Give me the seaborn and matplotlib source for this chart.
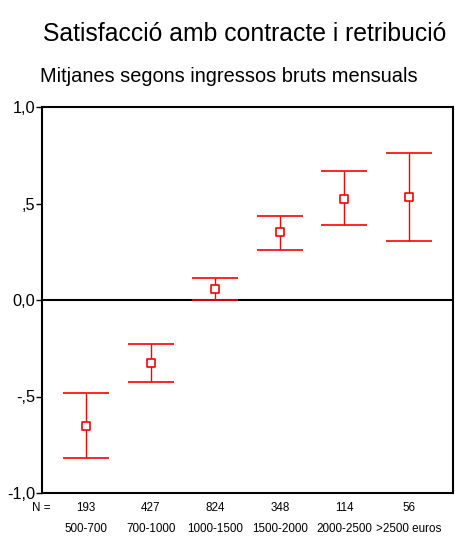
import numpy as np
import pandas as pd
import matplotlib
matplotlib.use("Agg")
import matplotlib.pyplot as plt
import matplotlib.transforms as mtransforms
import seaborn as sns

# Dades llegides del gràfic
grups = ["500-700", "700-1000", "1000-1500", "1500-2000", "2000-2500", ">2500 euros"]
n_casos = [193, 427, 824, 348, 114, 56]
mitjanes = [-0.654, -0.325, 0.055, 0.352, 0.524, 0.534]
inferior = [-0.820, -0.425, 0.000, 0.261, 0.391, 0.306]
superior = [-0.484, -0.227, 0.115, 0.435, 0.666, 0.764]

sns.set_theme(style="white")
plt.rcParams['font.family'] = ['Liberation Sans', 'DejaVu Sans']
plt.rcParams['text.color'] = 'black'
plt.rcParams['ytick.color'] = 'black'
plt.rcParams['ytick.labelcolor'] = 'black'

df = pd.DataFrame({"pos": range(len(grups)), "grup": grups, "mitjana": mitjanes,
                   "inf": inferior, "sup": superior, "n": n_casos})

fig, ax = plt.subplots(figsize=(4.55, 5.36), dpi=100)
fig.subplots_adjust(left=42/455, right=453/455, top=1-107/536, bottom=1-493/536)

# línia de referència al zero
ax.axhline(0, color="black", lw=1.5, zorder=1)

# barres d'interval
ax.errorbar(df["pos"], df["mitjana"],
            yerr=[df["mitjana"] - df["inf"], df["sup"] - df["mitjana"]],
            fmt="none", ecolor="#ff0000", elinewidth=1.0, capsize=16.8, capthick=1.2,
            zorder=2)
sns.scatterplot(data=df, x="pos", y="mitjana", marker="s", s=36,
                facecolor="white", edgecolor="#ff0000", linewidth=1.2, ax=ax, zorder=3)

ax.set_xlim(-0.68, 5.68)
ax.set_ylim(-1.0, 1.0)
ax.set_yticks([1.0, 0.5, 0.0, -0.5, -1.0])
ax.set_yticklabels(["1,0", ",5", "0,0", "-,5", "-1,0"], fontsize=11.8, color="black")
ax.set_xticks([])
ax.set_xlabel("")
ax.set_ylabel("")
ax.tick_params(axis="y", direction="out", length=4, width=1, color="black", pad=1,
               left=True)
for sp in ax.spines.values():
    sp.set_visible(True)
    sp.set_color("black")
    sp.set_linewidth(1.5)

# etiquetes de N i trams d'ingressos
trans = mtransforms.blended_transform_factory(ax.transData, fig.transFigure)
for i, (n, g) in enumerate(zip(n_casos, grups)):
    ax.text(i, 1 - 508/536, str(n), transform=trans, ha="center", va="center", fontsize=8.4)
    ax.text(i, 1 - 529/536, g, transform=trans, ha="center", va="center", fontsize=8.4)
fig.text(50/455, 1 - 508/536, "N =", ha="right", va="center", fontsize=8.4)

fig.text(245/455, 1 - 34/536, "Satisfacció amb contracte i retribució",
         ha="center", va="center", fontsize=17.8)
fig.text(229/455, 1 - 77/536, "Mitjanes segons ingressos bruts mensuals",
         ha="center", va="center", fontsize=14.4)

fig.savefig("out.png", dpi=100)
